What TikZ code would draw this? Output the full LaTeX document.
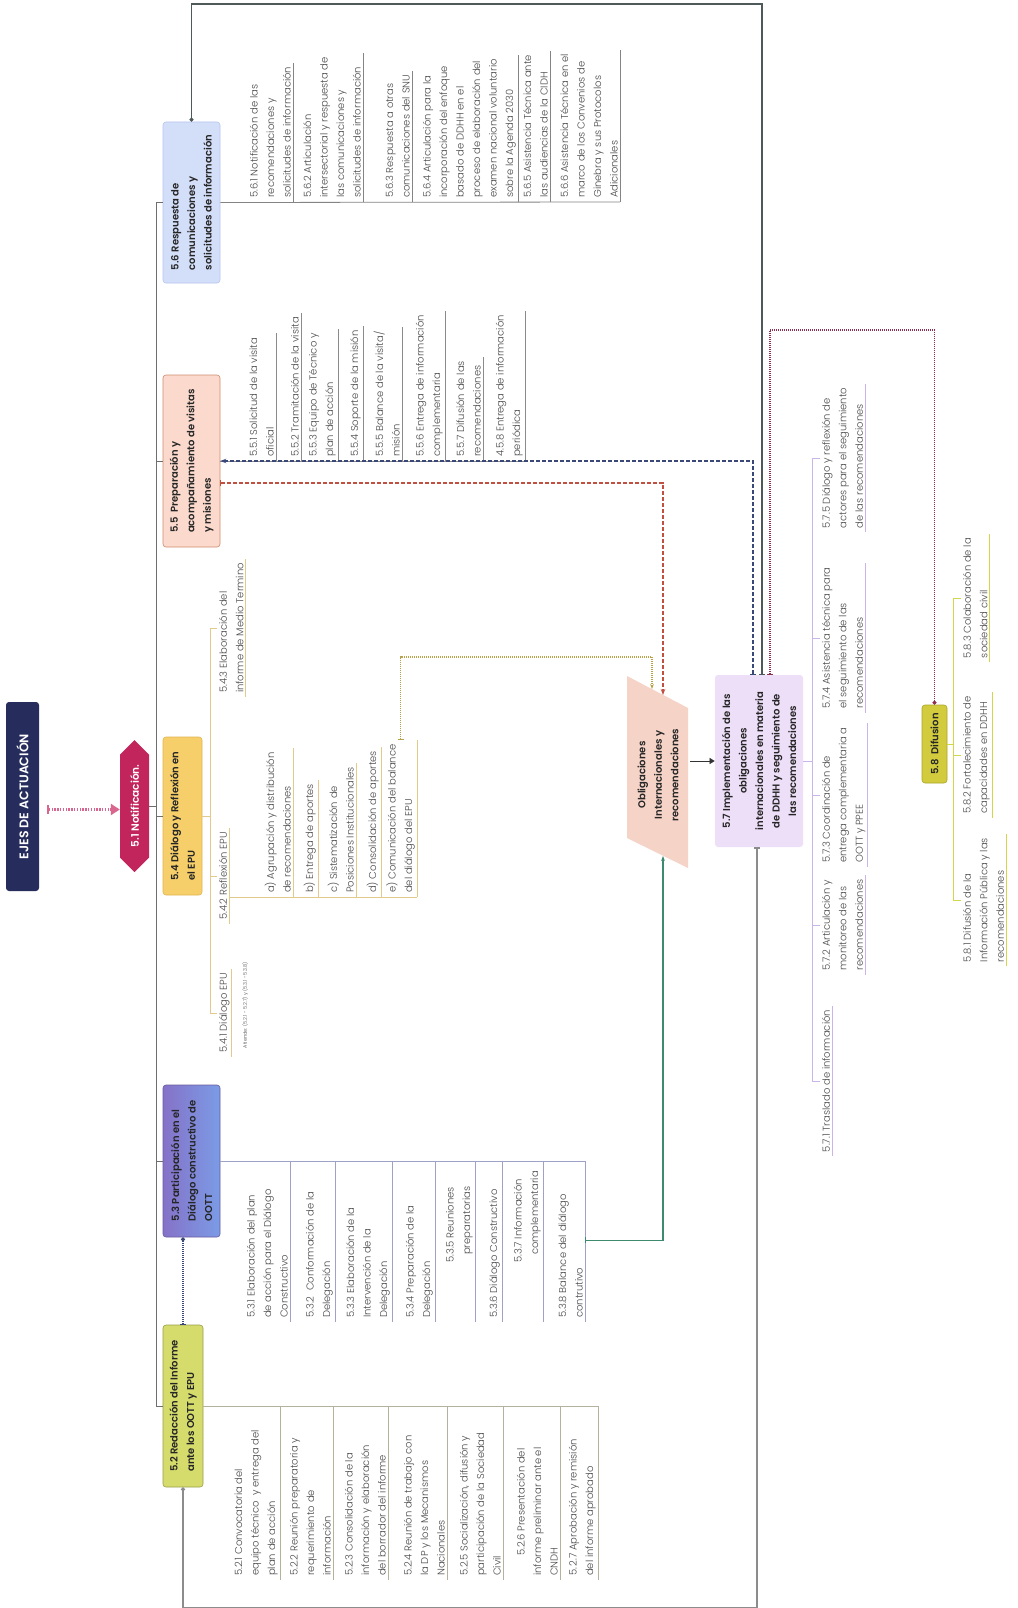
\documentclass[tikz,border=0pt]{standalone}
\usepackage{fontspec}
\setmainfont{Poppins}[UprightFont=* Light,BoldFont=* SemiBold,Kerning=Off]
\usetikzlibrary{arrows.meta,shapes.symbols}
\definecolor{ejesnavy}{HTML}{262D5C}
\definecolor{notifred}{HTML}{C2255C}
\definecolor{pinkrel}{HTML}{D9668F}
\definecolor{fill52}{HTML}{D5DC6C}
\definecolor{draw52}{HTML}{9A9E48}
\definecolor{blue53}{HTML}{7B9BE6}
\definecolor{purp53}{HTML}{8572C8}
\definecolor{fill54}{HTML}{F6CF6A}
\definecolor{draw54}{HTML}{E3B552}
\definecolor{fill55}{HTML}{FBDACD}
\definecolor{draw55}{HTML}{CC8C6C}
\definecolor{fill56}{HTML}{D3DEF8}
\definecolor{draw56}{HTML}{B5C6EE}
\definecolor{fill57}{HTML}{EEDFF9}
\definecolor{fill58}{HTML}{D2CB3E}
\definecolor{draw58}{HTML}{ADA52A}
\definecolor{filloblig}{HTML}{F5D3C7}
\definecolor{txtgrey}{HTML}{4A4A4A}
\definecolor{spinegrey}{HTML}{6E6E6E}
\definecolor{line54}{HTML}{E2C98C}
\definecolor{line53}{HTML}{9DA2C6}
\definecolor{line52}{HTML}{B4B19C}
\definecolor{line57}{HTML}{C9B5EA}
\definecolor{line58}{HTML}{D3D64A}
\definecolor{reldark}{HTML}{4E5A5A}
\definecolor{relnavy}{HTML}{3A4878}
\definecolor{relmaroon}{HTML}{8E2F52}
\definecolor{relred}{HTML}{C0503F}
\definecolor{relolive}{HTML}{B9A24C}
\definecolor{relgreen}{HTML}{3E8A6E}
\definecolor{relgrey}{HTML}{8C8C8C}
\begin{document}
\begin{tikzpicture}[x=1pt,y=-1pt]
\tikzstyle{every node}=[rotate=90,inner sep=0pt]
\tikzstyle{titlebox}=[fill=ejesnavy,text=white,rounded corners=3pt,minimum width=189,minimum height=33,font=\bfseries\fontsize{12.5}{14}\selectfont]
\tikzstyle{notif}=[signal,signal to=east and west,signal pointer angle=90,fill=notifred,text=white,minimum width=132,minimum height=29,font=\bfseries\fontsize{10.5}{12}\selectfont]
\tikzstyle{mainbox}=[rounded corners=3pt,align=left,text=black!85,line width=0.6pt,font=\bfseries\fontsize{10}{16.5}\selectfont]
\tikzstyle{itm}=[align=left,text=txtgrey,inner xsep=4pt,inner ysep=2pt,font=\fontsize{10}{16.5}\selectfont]
\tikzstyle{spine}=[spinegrey,line width=0.9pt]
\tikzstyle{l56}=[spinegrey!85,line width=0.8pt]
\tikzstyle{l55}=[spinegrey!80,line width=0.8pt]
\tikzstyle{l54}=[line54,line width=0.9pt]
\tikzstyle{l53}=[line53,line width=0.8pt]
\tikzstyle{l52}=[line52,line width=0.8pt]
\tikzstyle{l57}=[line57,line width=0.9pt]
\tikzstyle{l58}=[line58,line width=1pt]
\tikzstyle{rdark}=[reldark,line width=1.1pt,{Bar[width=6pt]}-{Circle[length=4pt]}]
\tikzstyle{rnavy}=[relnavy,line width=1.1pt,dash pattern=on 4pt off 2pt,{Bar[width=6pt]}-{Stealth[length=6pt]}]
\tikzstyle{rmaroon}=[relmaroon,line width=1.1pt,dash pattern=on 1pt off 1pt,{Bar[width=6pt]}-{Circle[length=4pt]}]
\tikzstyle{rred}=[relred,line width=1.1pt,dash pattern=on 4pt off 2pt,{Bar[width=6pt]}-{Stealth[length=6pt]}]
\tikzstyle{rolive}=[relolive,line width=1.1pt,dash pattern=on 1pt off 1pt,{Bar[width=6pt]}-{Stealth[length=5pt]}]
\tikzstyle{rgreen}=[relgreen,line width=1.1pt,{Bar[width=6pt]}-{Stealth[length=5pt]}]
\tikzstyle{rgrey}=[relgrey,line width=1.3pt,{Bar[width=6pt]}-{Circle[length=4pt]}]
\tikzstyle{rndot}=[relnavy,line width=1.1pt,dash pattern=on 1pt off 1pt,{Bar[width=6pt]}-{Circle[length=4pt]}]
\tikzstyle{rpink}=[pinkrel,line width=2.2pt,dash pattern=on 1.4pt off 1.4pt,{Bar[width=9pt]}-{Triangle[length=9pt,width=11pt]}]

\fill[white] (0,0) rectangle (1017,1608);
\useasboundingbox (0,0) rectangle (1017,1608);

\node[titlebox] (ejes) at (22.5,796.5) {EJES DE ACTUACIÓN};
\node[notif] (n51) at (134.5,806) {5.1 Notificación.};
\node[mainbox,fill=fill56,draw=draw56,minimum width=161,minimum height=57] (n56) at (191.5,202.5) {5.6 Respuesta de\\comunicaciones y\\solicitudes de información};
\node[mainbox,fill=fill55,draw=draw55,minimum width=172,minimum height=57] (n55) at (191.5,461) {5.5\ \ Preparación y\\acompañamiento de visitas\\y misiones};
\node[mainbox,fill=fill54,draw=draw54,minimum width=158,minimum height=39] (n54) at (182.5,816) {5.4 Diálogo y Reflexión en\\el EPU};
\node[mainbox,left color=purp53,right color=blue53,draw=purp53!80!black,minimum width=152,minimum height=57] (n53) at (191.5,1161) {5.3 Participación en el\\Diálogo constructivo de\\OOTT};
\node[mainbox,fill=fill52,draw=draw52,minimum width=162,minimum height=40] (n52) at (183,1406) {5.2 Redacción del Informe\\ante los OOTT y EPU};
\node[mainbox,fill=fill57,align=center,minimum width=172,minimum height=88] (n57) at (759,761) {5.7 Implementación de las\\obligaciones\\internacionales en materia\\de DDHH y seguimiento de\\las recomendaciones};
\node[mainbox,fill=fill58,draw=draw58,minimum width=78,minimum height=25] (n58) at (934.5,744) {5.8\ \ Difusion};

\fill[filloblig] (627,676) -- (688,708) -- (688,868) -- (627,838) -- cycle;
\node[mainbox,align=center] (obl) at (658,775) {Obligaciones\\Internacionales y\\recomendaciones};
\coordinate (oblA) at (652,689);
\coordinate (oblB) at (663,695);
\coordinate (oblC) at (663,856);
\coordinate (oblD) at (690,766);

\coordinate (sp) at (156,0);
\draw[spine] (n56.north -| sp) -- (n52.north -| sp);
\draw[spine] (n51.south) -- (n51.south -| sp);
\draw[spine] (n56.north -| sp) -- (n56.north);
\draw[spine] (n55.north -| sp) -- (n55.north);
\draw[spine] (n54.north -| sp) -- (n54.north);
\draw[spine] (n53.north -| sp) -- (n53.north);
\draw[spine] (n52.north -| sp) -- (n52.north);

\node[itm,anchor=south west] (i561) at (293,202) {5.6.1 Notificación de las\\recomendaciones y\\solicitudes de información};
\node[itm,anchor=south west] (i562) at (363,202) {5.6.2 Articulación\\intersectorial y respuesta de\\las comunicaciones y\\solicitudes de información};
\node[itm,anchor=south west] (i563) at (412,202) {5.6.3 Respuesta a otras\\comunicaciones del SNU};
\node[itm,anchor=south west] (i564) at (518,202) {5.6.4 Articulación para la\\incorporación del enfoque\\basado de DDHH en el\\proceso de elaboración del\\examen nacional voluntario\\sobre la Agenda 2030};
\node[itm,anchor=south west] (i565) at (550,202) {5.6.5 Asistencia Técnica ante\\las audiencias de la CIDH};
\node[itm,anchor=south west] (i566) at (620,202) {5.6.6 Asistencia Técnica en el\\marco de los Convenios de\\Ginebra y sus Protocolos\\Adicionales};
\draw[l56] (n56.south) -- (i566.south west);
\draw[l56] (i561.south west) -- (i561.south east);
\draw[l56] (i562.south west) -- (i562.south east);
\draw[l56] (i563.south west) -- (i563.south east);
\draw[l56] (i564.south west) -- (i564.south east);
\draw[l56] (i565.south west) -- (i565.south east);
\draw[l56] (i566.south west) -- (i566.south east);

\node[itm,anchor=south west] (i551) at (276,461) {5.5.1 Solicitud de la visita\\oficial};
\node[itm,anchor=south west] (i552) at (301,461) {5.5.2 Tramitación de la visita};
\node[itm,anchor=south west] (i553) at (338,461) {5.5.3 Equipo de Técnico y\\plan de acción};
\node[itm,anchor=south west] (i554) at (363,461) {5.5.4 Soporte de la misión};
\node[itm,anchor=south west] (i555) at (402,461) {5.5.5 Balance de la visita/\\misión};
\node[itm,anchor=south west] (i556) at (445,461) {5.5.6 Entrega de información\\complementaria};
\node[itm,anchor=south west] (i557) at (483,461) {5.5.7 Difusión de las\\recomendaciones};
\node[itm,anchor=south west] (i558) at (525,461) {4.5.8 Entrega de información\\periódica};
\draw[l55] (n55.south) -- (i558.south west);
\draw[l55] (i551.south west) -- (i551.south east);
\draw[l55] (i552.south west) -- (i552.south east);
\draw[l55] (i553.south west) -- (i553.south east);
\draw[l55] (i554.south west) -- (i554.south east);
\draw[l55] (i555.south west) -- (i555.south east);
\draw[l55] (i556.south west) -- (i556.south east);
\draw[l55] (i557.south west) -- (i557.south east);
\draw[l55] (i558.south west) -- (i558.south east);

\coordinate (b54) at (210,0);
\node[itm,anchor=north] (i541) at (217,1013) {5.4.1 Diálogo EPU};
\node[itm,anchor=north,font=\fontsize{5}{6}\selectfont] (iat) at (240,1005) {Atiende: (5.2.1 - 5.2.7) y (5.3.1 - 5.3.8)};
\node[itm,anchor=north] (i542) at (217,876) {5.4.2 Reflexión EPU};
\node[itm,anchor=north] (i543) at (217,628) {5.4.3 Elaboración del\\informe de Medio Termino};
\draw[l54] (n54.south) -- (n54.south -| b54);
\draw[l54] (i543.north -| b54) -- (i541.north -| b54);
\draw[l54] (i543.north -| b54) -- (i543.north);
\draw[l54] (i542.north -| b54) -- (i542.north);
\draw[l54] (i541.north -| b54) -- (i541.north);
\draw[l54] (i541.south west) -- (i541.south east);
\draw[l54] (i542.south west) -- (i542.south east);
\draw[l54] (i543.south west) -- (i543.south east);
\coordinate (t542) at (0,897);
\node[itm,anchor=south west] (ia) at (293,897) {a) Agrupación y distribución\\de recomendaciones};
\node[itm,anchor=south west] (ib) at (318,897) {b) Entrega de aportes};
\node[itm,anchor=south west] (ic) at (356,897) {c) Sistematización de\\Posiciones Institucionales};
\node[itm,anchor=south west] (id) at (381,897) {d) Consolidación de aportes};
\node[itm,anchor=south west] (ie) at (417,897) {e) Comunicación del balance\\del diálogo del EPU};
\draw[l54] (i542.south |- t542) -- (ie.south west);
\draw[l54] (ia.south west) -- (ia.south east);
\draw[l54] (ib.south west) -- (ib.south east);
\draw[l54] (ic.south west) -- (ic.south east);
\draw[l54] (id.south west) -- (id.south east);
\draw[l54] (ie.south west) -- (ie.south east);

\coordinate (t53) at (0,1161);
\node[itm,anchor=south west] (i531) at (290,1322) {5.3.1 Elaboración del plan\\de acción para el Diálogo\\Constructivo};
\node[itm,anchor=south west] (i532) at (335,1322) {5.3.2\ \ Conformación de la\\Delegación};
\node[itm,anchor=south west] (i533) at (392,1322) {5.3.3 Elaboración de la\\Intervención de la\\Delegación};
\node[itm,anchor=south west] (i534) at (435,1322) {5.3.4 Preparación de la\\Delegación};
\node[itm,anchor=south west] (i535) at (475,1322) {\hspace*{55pt}5.3.5 Reuniones\\\hspace*{63pt}preparatorias};
\node[itm,anchor=south west] (i536) at (502,1322) {5.3.6 Diálogo Constructivo};
\node[itm,anchor=south west] (i537) at (543,1322) {\hspace*{55pt}5.3.7 Información\\\hspace*{63pt}complementaria};
\node[itm,anchor=south west] (i538) at (585,1322) {5.3.8 Balance del diálogo\\contrutivo};
\draw[l53] (n53.south) -- (i538.south west |- t53);
\draw[l53] (i531.south west) -- (i531.south west |- t53);
\draw[l53] (i532.south west) -- (i532.south west |- t53);
\draw[l53] (i533.south west) -- (i533.south west |- t53);
\draw[l53] (i534.south west) -- (i534.south west |- t53);
\draw[l53] (i535.south west) -- (i535.south west |- t53);
\draw[l53] (i536.south west) -- (i536.south west |- t53);
\draw[l53] (i537.south west) -- (i537.south west |- t53);
\draw[l53] (i538.south west) -- (i538.south west |- t53);

\coordinate (t52) at (0,1406);
\node[itm,anchor=south west] (i521) at (280,1580) {5.2.1 Convocatoria del\\equipo técnico\ \ y entrega del\\plan de acción};
\node[itm,anchor=south west] (i522) at (333,1580) {5.2.2 Reunión preparatoria y\\requerimiento de\\información};
\node[itm,anchor=south west] (i523) at (388,1580) {5.2.3 Consolidación de la\\información y elaboración\\del borrador del informe};
\node[itm,anchor=south west] (i524) at (447,1580) {5.2.4 Reunión de trabajo con\\la DP y los Mecanismos\\Nacionales};
\node[itm,anchor=south west] (i525) at (503,1580) {5.2.5 Socialización, difusión y\\participación de la Sociedad\\Civil};
\node[itm,anchor=south west] (i526) at (560,1580) {\hspace*{20pt}5.2.6 Presentación del\\informe preliminar ante el\\CNDH};
\node[itm,anchor=south west] (i527) at (598,1580) {5.\,2.7 Aprobación y remisión\\del informe aprobado};
\draw[l52] (n52.south) -- (i527.south west |- t52);
\draw[l52] (i521.south west) -- (i521.south west |- t52);
\draw[l52] (i522.south west) -- (i522.south west |- t52);
\draw[l52] (i523.south west) -- (i523.south west |- t52);
\draw[l52] (i524.south west) -- (i524.south west |- t52);
\draw[l52] (i525.south west) -- (i525.south west |- t52);
\draw[l52] (i526.south west) -- (i526.south west |- t52);
\draw[l52] (i527.south west) -- (i527.south west |- t52);

\coordinate (b57) at (812,0);
\node[itm,anchor=north] (i575) at (820,458) {5.7.5 Diálogo y reflexión de\\actores para el seguimiento\\de las recomendaciones};
\node[itm,anchor=north] (i574) at (820,638) {5.7.4 Asistencia técnica para\\el seguimiento de las\\recomendaciones};
\node[itm,anchor=north] (i573) at (820,795) {5.7.3 Coordinación de\\entrega complementaria a\\OOTT y PPEE};
\node[itm,anchor=north] (i572) at (820,925) {5.7.2 Articulación y\\monitoreo de las\\recomendaciones};
\node[itm,anchor=north] (i571) at (820,1081) {5.7.1 Traslado de información};
\draw[l57] (n57.south) -- (n57.south -| b57);
\draw[l57] (i575.north -| b57) -- (i571.north -| b57);
\draw[l57] (i575.north -| b57) -- (i575.north);
\draw[l57] (i574.north -| b57) -- (i574.north);
\draw[l57] (i573.north -| b57) -- (i573.north);
\draw[l57] (i572.north -| b57) -- (i572.north);
\draw[l57] (i571.north -| b57) -- (i571.north);
\draw[l57] (i575.south west) -- (i575.south east);
\draw[l57] (i574.south west) -- (i574.south east);
\draw[l57] (i573.south west) -- (i573.south east);
\draw[l57] (i572.south west) -- (i572.south east);
\draw[l57] (i571.south west) -- (i571.south east);

\coordinate (b58) at (953,0);
\node[itm,anchor=north] (i583) at (961,598) {5.8.3 Colaboración de la\\sociedad civil};
\node[itm,anchor=north] (i582) at (961,755) {5.8.2 Fortalecimiento de\\capacidades en DDHH};
\node[itm,anchor=north] (i581) at (961,900) {5.8.1 Difusión de la\\Información Pública y las\\recomendaciones};
\draw[l58] (n58.south) -- (n58.south -| b58);
\draw[l58] (i583.north -| b58) -- (i581.north -| b58);
\draw[l58] (i583.north -| b58) -- (i583.north);
\draw[l58] (i582.north -| b58) -- (i582.north);
\draw[l58] (i581.north -| b58) -- (i581.north);
\draw[l58] (i583.south west) -- (i583.south east);
\draw[l58] (i582.south west) -- (i582.south east);
\draw[l58] (i581.south west) -- (i581.south east);

\coordinate (ctop) at (0,4);
\coordinate (cmar) at (0,330);
\coordinate (colv) at (0,657);
\coordinate (cbot) at (0,1608);
\draw[rpink] ([xshift=8pt,yshift=-13pt]ejes.south) -- ([yshift=-13pt]ejes.south -| n51.north);
\draw[rdark] ([xshift=3pt]n57.east) |- (n56.east |- ctop) -- (n56.east);
\draw[rnavy] ([xshift=-6pt]n57.east) |- (n55.south);
\draw[rmaroon] ([xshift=11pt]n57.east) |- (n58.east |- cmar) -- (n58.east);
\draw[rred] ([yshift=-22pt]n55.south) -| (oblB);
\draw[rolive] (ie.east) |- (oblA |- colv) -- (oblA);
\draw[rgreen] ([yshift=16pt]i538.south) -| (oblC);
\draw[rgrey] ([xshift=-2pt]n57.west) |- (n52.west |- cbot) -- (n52.west);
\draw[rndot] (n52.east) -- (n52.east |- n53.west);
\draw[black!80,line width=0.5pt,-{Triangle[length=5pt,width=6pt]}] (n57.north -| oblD) -- (n57.north);
\end{tikzpicture}
\end{document}
